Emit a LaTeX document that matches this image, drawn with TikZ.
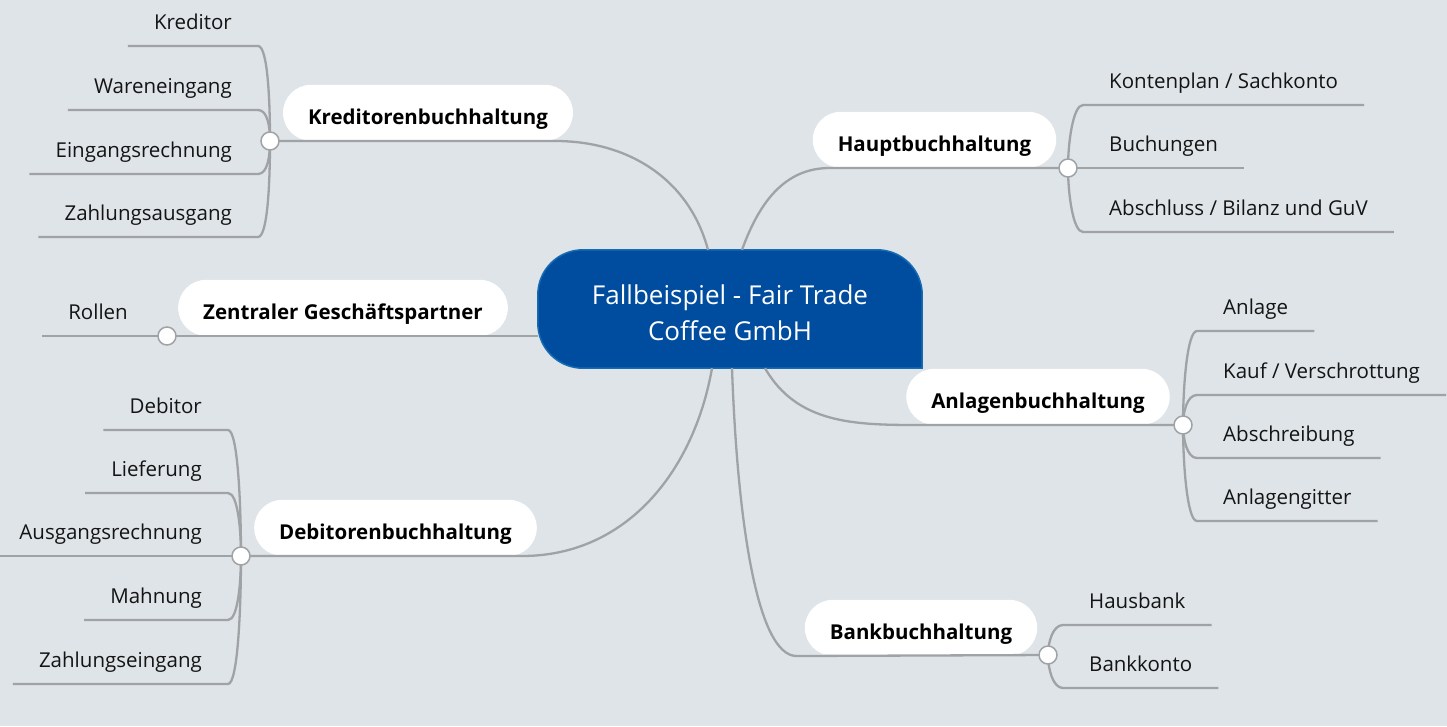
\documentclass[tikz,border=0pt]{standalone}
\usepackage{fontspec}
\setmainfont{Open Sans}
\definecolor{canvas}{RGB}{223,228,232}
\definecolor{hubblue}{RGB}{0,76,159}
\definecolor{hubedge}{RGB}{22,108,178}
\definecolor{twig}{RGB}{160,163,166}
\definecolor{ink}{RGB}{20,20,20}
\pgfdeclarelayer{back}
\pgfsetlayers{back,main}
\begin{document}
\begin{tikzpicture}[x=1pt, y=1pt,
    link/.style={draw=twig, line width=2.3pt},
    knob/.style={circle, draw=twig, fill=white, line width=1.5pt, minimum size=18pt, inner sep=0pt},
    pill/.style={fill=white, rounded corners=28pt, inner xsep=25pt, inner ysep=0pt, minimum height=56pt,
                 text height=23pt, text depth=0pt, anchor=south, font=\bfseries\fontsize{20.5}{24}\selectfont},
    leafl/.style={anchor=south east, inner xsep=26pt, inner ysep=0pt, text height=20pt, text depth=16.5pt,
                  text=ink, font=\fontsize{20.5}{24}\selectfont},
    leafr/.style={leafl, anchor=south west}]
% canvas
\useasboundingbox (0,0) rectangle (1447,-726);
\def\r{45}

% hub
\node[minimum width=384pt, minimum height=118pt, align=center, text=white, text height=63pt,
      font=\fontsize{26}{36}\selectfont] (hub) at (730,-309) {Fallbeispiel - Fair Trade\\Coffee GmbH};
\begin{pgfonlayer}{back}
  \fill[canvas] (0,0) rectangle (1447,-726);
  \filldraw[fill=hubblue, draw=hubedge, line width=1.5pt] (hub.south east) -- ([xshift=\r]hub.south west)
    arc[start angle=270, end angle=180, radius=\r] -- ([yshift=-\r]hub.north west)
    arc[start angle=180, end angle=90, radius=\r] -- ([xshift=-\r]hub.north east)
    arc[start angle=90, end angle=0, radius=\r] -- cycle;
\end{pgfonlayer}

% main branches
\node[pill] (kred)    at (428,-141)   {Kreditorenbuchhaltung};
\node[pill] (haupt)   at (934.5,-168) {Hauptbuchhaltung};
\node[pill] (zentral) at (343,-336)   {Zentraler Geschäftspartner};
\node[pill] (anl)     at (1038,-425)  {Anlagenbuchhaltung};
\node[pill] (deb)     at (395.5,-556) {Debitorenbuchhaltung};
\node[pill] (bank)    at (921,-656)   {Bankbuchhaltung};

\coordinate (kc) at (270,-141);
\coordinate (hc) at (1068,-168);
\coordinate (zc) at (167,-336);
\coordinate (ac) at (1183,-425);
\coordinate (dc) at (241,-556);
\coordinate (bc) at (1048,-655);

% leaves
\node[leafl] (kred1) at (258,-46)  {Kreditor};
\node[leafl] (kred2) at (258,-110) {Wareneingang};
\node[leafl] (kred3) at (258,-174) {Eingangsrechnung};
\node[leafl] (kred4) at (258,-237) {Zahlungsausgang};

\node[leafr] (haupt1) at (1083,-105) {Kontenplan / Sachkonto};
\node[leafr] (haupt2) at (1083,-168) {Buchungen};
\node[leafr] (haupt3) at (1083,-232) {Abschluss / Bilanz und GuV};

\node[leafl] (rollen) at (154,-336) {Rollen};

\node[leafr] (anl1) at (1197,-331) {Anlage};
\node[leafr] (anl2) at (1197,-395) {Kauf / Verschrottung};
\node[leafr] (anl3) at (1197,-458) {Abschreibung};
\node[leafr] (anl4) at (1197,-521) {Anlagengitter};

\node[leafl] (deb1) at (228,-430) {Debitor};
\node[leafl] (deb2) at (228,-493) {Lieferung};
\node[leafl] (deb3) at (228,-556) {Ausgangsrechnung};
\node[leafl] (deb4) at (228,-620) {Mahnung};
\node[leafl] (deb5) at (228,-684) {Zahlungseingang};

\node[leafr] (bank1) at (1063,-625) {Hausbank};
\node[leafr] (bank2) at (1063,-688) {Bankkonto};

% hub to branches
\draw[link] ([xshift=-22]hub.north) to[out=105, in=0] ([xshift=-18]kred.south east) -- (kc);
\draw[link] ([xshift=12]hub.north) to[out=70, in=180] ([xshift=17]haupt.south west) -- (hc);
\draw[link] ([yshift=-27]hub.west) -- (zc);
\draw[link] ([xshift=35]hub.south) to[out=-60, in=180] ([xshift=12]anl.south west) -- (ac);
\draw[link] ([xshift=-18]hub.south) to[out=-100, in=0] ([xshift=-15]deb.south east) -- (dc);
\draw[link] ([xshift=2]hub.south) to[out=-88, in=180, out distance=150pt, in distance=40pt]
  ([xshift=-8]bank.south west) -- (bc);

% branches to leaves
\draw[link] (kc) to[out=90, in=0, in distance=10pt] (kred1.south east) -- (kred1.south west);
\draw[link] (kc) to[out=90, in=0, in distance=10pt] (kred2.south east) -- (kred2.south west);
\draw[link] (kc) to[out=-90, in=0, in distance=10pt] (kred3.south east) -- (kred3.south west);
\draw[link] (kc) to[out=-90, in=0, in distance=10pt] (kred4.south east) -- (kred4.south west);

\draw[link] (hc) to[out=90, in=180, in distance=10pt] (haupt1.south west) -- (haupt1.south east);
\draw[link] (hc) -- (haupt2.south west) -- (haupt2.south east);
\draw[link] (hc) to[out=-90, in=180, in distance=10pt] (haupt3.south west) -- (haupt3.south east);

\draw[link] (zc) -- (rollen.south east) -- (rollen.south west);

\draw[link] (ac) to[out=90, in=180, in distance=10pt] (anl1.south west) -- (anl1.south east);
\draw[link] (ac) to[out=90, in=180, in distance=10pt] (anl2.south west) -- (anl2.south east);
\draw[link] (ac) to[out=-90, in=180, in distance=10pt] (anl3.south west) -- (anl3.south east);
\draw[link] (ac) to[out=-90, in=180, in distance=10pt] (anl4.south west) -- (anl4.south east);

\draw[link] (dc) to[out=90, in=0, in distance=10pt] (deb1.south east) -- (deb1.south west);
\draw[link] (dc) to[out=90, in=0, in distance=10pt] (deb2.south east) -- (deb2.south west);
\draw[link] (dc) -- (deb3.south east) -- (deb3.south west);
\draw[link] (dc) to[out=-90, in=0, in distance=10pt] (deb4.south east) -- (deb4.south west);
\draw[link] (dc) to[out=-90, in=0, in distance=10pt] (deb5.south east) -- (deb5.south west);

\draw[link] (bc) to[out=90, in=180, in distance=10pt] (bank1.south west) -- (bank1.south east);
\draw[link] (bc) to[out=-90, in=180, in distance=10pt] (bank2.south west) -- (bank2.south east);

% knobs
\foreach \c in {kc,hc,zc,ac,dc,bc}
  \node[knob] at (\c) {};
\end{tikzpicture}
\end{document}
